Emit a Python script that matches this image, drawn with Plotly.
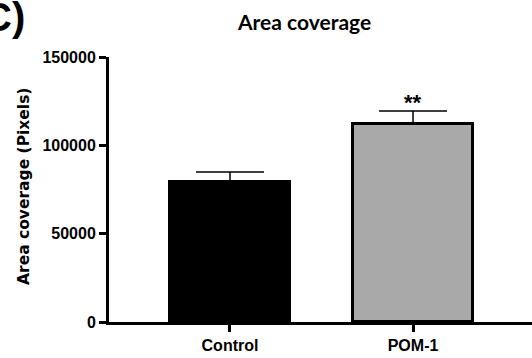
import plotly.graph_objects as go

categories = ["Control", "POM-1"]
means = [79200, 112000]
errors_up = [5700, 7400]
bar_colors = ["#000000", "#a9a9a9"]
y_ticks = [0, 50000, 100000, 150000]
y_ticklabels = ["0", "50000", "100000", "150000"]
significance = ["", "**"]

W, H = 532, 358
L, R, T, B = 109, 0, 57, 36
PW, PH = W - L - R, H - T - B


def px_x(p):
    return (p - L) / PW


def px_y(p):
    return 1 - (p - T) / PH


fig = go.Figure()
fig.add_trace(go.Bar(
    x=categories, y=means,
    width=0.66,
    marker=dict(color=bar_colors, line=dict(color="#000000", width=3)),
    error_y=dict(type="data", array=errors_up, arrayminus=[0, 0], symmetric=False,
                 color="#000000", thickness=1.5, width=34),
    showlegend=False,
))

for c, m, e, s in zip(categories, means, errors_up, significance):
    if s:
        fig.add_annotation(x=c, y=m + e, text="<b>" + s + "</b>", showarrow=False, yanchor="bottom",
                           yshift=-6, font=dict(family="Liberation Sans", size=22, color="#000"))

axis_font = dict(family="Liberation Sans", size=16, color="#000000", weight="bold")

fig.update_layout(
    width=W, height=H,
    margin=dict(l=L, r=R, t=T, b=B, autoexpand=False),
    paper_bgcolor="white", plot_bgcolor="white",
    bargap=0,
    xaxis=dict(
        range=[-0.661, 1.65], showline=True, linecolor="#000", linewidth=3,
        ticks="outside", ticklen=7, tickwidth=2.5, tickcolor="#000",
        tickfont=axis_font, showgrid=False, zeroline=False, fixedrange=True,
        automargin=False,
    ),
    yaxis=dict(
        range=[0, 150000], showline=True, linecolor="#000", linewidth=3,
        ticks="outside", ticklen=7, tickwidth=2.5, tickcolor="#000",
        tickvals=y_ticks, ticktext=y_ticklabels, tickfont=axis_font,
        showgrid=False, zeroline=False, fixedrange=True, automargin=False,
    ),
)

# Panel letter (clipped at the left edge, as in the reference)
fig.add_annotation(xref="paper", yref="paper", x=px_x(-19), y=px_y(17),
                   xanchor="left", yanchor="middle", text="<b>C)</b>", showarrow=False,
                   font=dict(family="Liberation Sans", size=40, color="#000"))
# Title
fig.add_annotation(xref="paper", yref="paper", x=px_x(304), y=px_y(21),
                   xanchor="center", yanchor="middle", text="<b>Area coverage</b>", showarrow=False,
                   font=dict(family="Lato", size=21, color="#000"))
# Y-axis title
fig.add_annotation(xref="paper", yref="paper", x=px_x(24), y=px_y(187),
                   xanchor="center", yanchor="middle", textangle=-90,
                   text="<b>Area coverage (Pixels)</b>", showarrow=False,
                   font=dict(family="DejaVu Sans", size=15.5, color="#000"))

fig.write_html("out.html", config={"displayModeBar": False},
               post_script="document.body.style.margin='0';document.body.style.overflow='hidden';")
